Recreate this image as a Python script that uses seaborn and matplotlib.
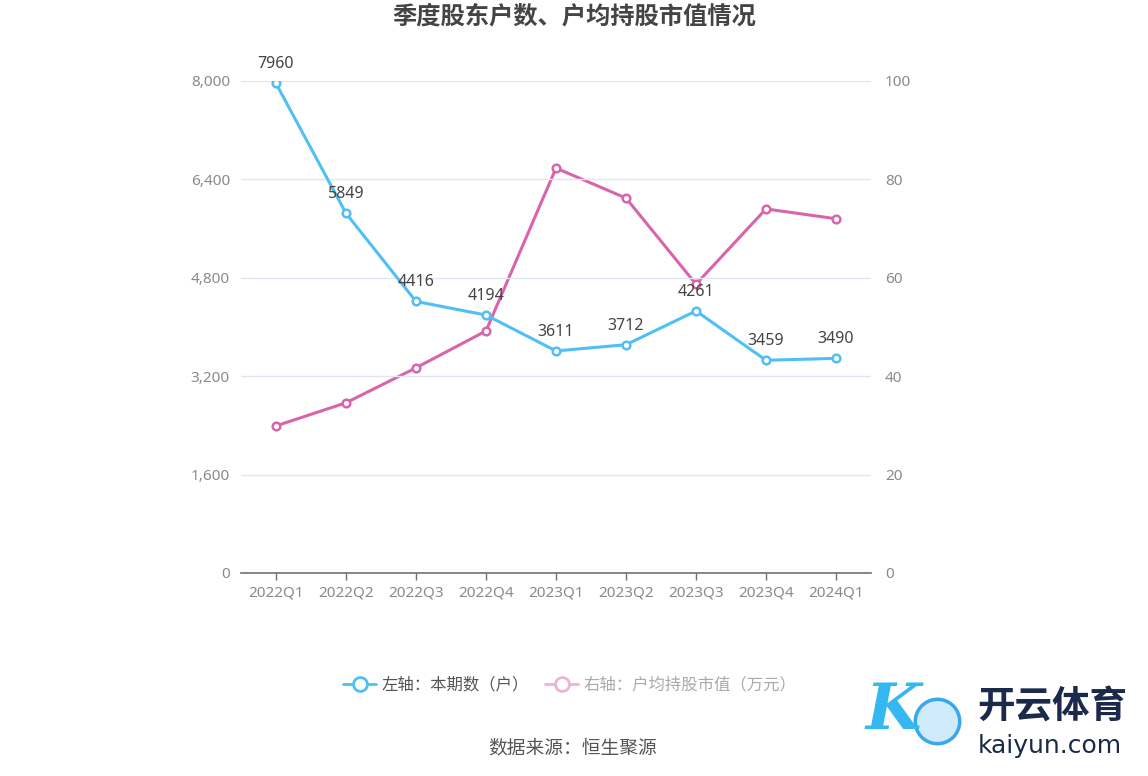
import matplotlib
matplotlib.use("Agg")
import matplotlib.pyplot as plt
import seaborn as sns
import pandas as pd
from matplotlib.lines import Line2D

quarters = ["2022Q1", "2022Q2", "2022Q3", "2022Q4", "2023Q1", "2023Q2", "2023Q3", "2023Q4", "2024Q1"]
holders = [7960, 5849, 4416, 4194, 3611, 3712, 4261, 3459, 3490]
avg_value = [29.9, 34.6, 41.7, 49.2, 82.3, 76.2, 58.7, 74.0, 72.0]
left_ticks = [0, 1600, 3200, 4800, 6400, 8000]
right_ticks = [0, 20, 40, 60, 80, 100]

sns.set_theme(style="white")
plt.rcParams['font.family'] = ['Noto Sans', 'Noto Sans CJK SC', 'DejaVu Sans']
CJK = ['Noto Sans CJK SC', 'DejaVu Sans']

BLUE = "#4FBFF6"
PINK = "#D865AC"
GRID = "#E0E6F1"
TICK = "#8A8A8A"

df = pd.DataFrame({"q": quarters, "x": range(len(quarters)), "h": holders, "v": avg_value})

fig = plt.figure(figsize=(11.48, 7.76), dpi=100)
ax = fig.add_axes([241/1148, 1-573/776, 630/1148, 492/776])
ax2 = ax.twinx()

sns.lineplot(data=df, x="x", y="h", ax=ax, color=BLUE, lw=2.2, marker="o", markersize=5.5,
             markerfacecolor="white", markeredgecolor=BLUE, markeredgewidth=1.8, zorder=3)
sns.lineplot(data=df, x="x", y="v", ax=ax2, color=PINK, lw=2.2, marker="o", markersize=5.5,
             markerfacecolor="white", markeredgecolor=PINK, markeredgewidth=1.8, zorder=3)

ax.set_xlim(-0.5, len(quarters) - 0.5)
ax.set_ylim(0, 8000)
ax2.set_ylim(0, 100)
ax.set_yticks(left_ticks)
ax.set_yticklabels([f"{t:,}" for t in left_ticks], color=TICK, fontsize=11)
ax2.set_yticks(right_ticks)
ax2.set_yticklabels([str(t) for t in right_ticks], color=TICK, fontsize=11)
ax.set_xticks(range(len(quarters)))
ax.set_xticklabels(quarters, color=TICK, fontsize=11)
ax.set_xlabel("")
ax.set_ylabel("")
ax2.set_ylabel("")

for t in left_ticks[1:]:
    ax.axhline(t, color=GRID, lw=1, zorder=0)

for s in ["top", "left", "right"]:
    ax.spines[s].set_visible(False)
    ax2.spines[s].set_visible(False)
ax2.spines["bottom"].set_visible(False)
ax.spines["bottom"].set_color("#6E7079")
ax.spines["bottom"].set_linewidth(1.2)
ax.tick_params(axis="x", length=5, color="#6E7079", width=1, pad=4, bottom=True)
ax.tick_params(axis="y", length=0, pad=8)
ax2.tick_params(axis="y", length=0, pad=10)
ax.set_zorder(ax2.get_zorder() + 1)
ax.patch.set_visible(False)

for i, h in enumerate(holders):
    ax.annotate(str(h), (i, h), xytext=(0, 8), textcoords="offset points",
                ha="center", va="bottom", fontsize=11.5, color="#444444")

fig.text(0.5, 1-17/776, "季度股东户数、户均持股市值情况", ha="center", va="center",
         fontsize=17.5, fontweight="bold", color="#444444", family=CJK)

handles = [
    Line2D([0], [0], color=BLUE, lw=2, marker="o", markersize=10, markerfacecolor="white",
           markeredgecolor=BLUE, markeredgewidth=2),
    Line2D([0], [0], color="#EDB3D6", lw=2, marker="o", markersize=10, markerfacecolor="white",
           markeredgecolor="#EDB3D6", markeredgewidth=2),
]
leg = fig.legend(handles, ["左轴：本期数（户）", "右轴：户均持股市值（万元）"], loc="center",
                 bbox_to_anchor=(570/1148, 1-685/776), ncol=2, frameon=False,
                 prop={"family": CJK, "size": 11.8},
                 handlelength=2.0, columnspacing=1.0, handletextpad=0.35)
leg.get_texts()[0].set_color("#555555")
leg.get_texts()[1].set_color("#AAAAAA")

fig.text(573/1148, 1-748/776, "数据来源：恒生聚源", ha="center", va="center", fontsize=13.5,
         color="#555555", family=CJK)

# watermark
fig.add_artist(Line2D([937/1148], [1-721/776], marker="o", markersize=32, markerfacecolor="#CFEAFB",
                      markeredgecolor="#3BA6F0", markeredgewidth=2.5, transform=fig.transFigure))
fig.text(893/1148, 1-712/776, "K", ha="center", va="center", fontsize=46, fontstyle="italic",
         fontweight="bold", color="#35B8F2", family=["DejaVu Serif"])
fig.text(977/1148, 1-707/776, "开云体育", ha="left", va="center", fontsize=27, fontweight="bold",
         color="#1B2A4A", family=CJK)
fig.text(978/1148, 1-746/776, "kaiyun.com", ha="left", va="center", fontsize=18,
         color="#1B2A4A", family=["DejaVu Sans"])

fig.savefig("out.png", dpi=100)
